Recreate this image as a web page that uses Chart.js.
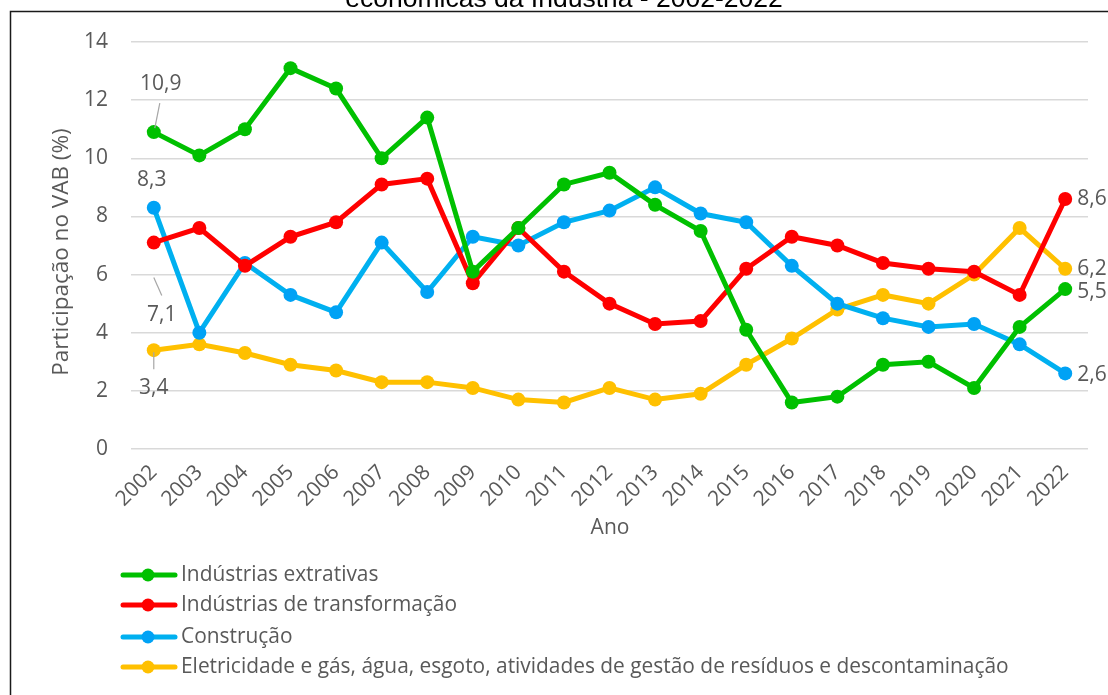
<!DOCTYPE html>
<html><head><meta charset="utf-8">
<script src="https://cdn.jsdelivr.net/npm/chart.js@4/dist/chart.umd.min.js"></script>
<style>html,body{margin:0;padding:0;background:#fff;overflow:hidden}#wrap{position:absolute;left:0;top:0;width:1108px;height:695px}</style>
</head><body><div id="wrap"><canvas id="c" width="1108" height="695"></canvas></div>
<script>
const years = ['2002','2003','2004','2005','2006','2007','2008','2009','2010','2011','2012','2013','2014','2015','2016','2017','2018','2019','2020','2021','2022'];
const extrativas     = [10.9,10.1,11.0,13.1,12.4,10.0,11.4,6.1,7.6,9.1,9.5,8.4,7.5,4.1,1.6,1.8,2.9,3.0,2.1,4.2,5.5];
const transformacao  = [7.1,7.6,6.3,7.3,7.8,9.1,9.3,5.7,7.6,6.1,5.0,4.3,4.4,6.2,7.3,7.0,6.4,6.2,6.1,5.3,8.6];
const construcao     = [8.3,4.0,6.4,5.3,4.7,7.1,5.4,7.3,7.0,7.8,8.2,9.0,8.1,7.8,6.3,5.0,4.5,4.2,4.3,3.6,2.6];
const eletricidade   = [3.4,3.6,3.3,2.9,2.7,2.3,2.3,2.1,1.7,1.6,2.1,1.7,1.9,2.9,3.8,4.8,5.3,5.0,6.0,7.6,6.2];
const seriesNames = ['Indústrias extrativas','Indústrias de transformação','Construção','Eletricidade e gás, água, esgoto, atividades de gestão de resíduos e descontaminação'];
const yTicks = [0,2,4,6,8,10,12,14];
const titleText = 'econômicas da Indústria - 2002-2022';
const yTitle = 'Participação no VAB (%)';
const xTitle = 'Ano';

const FONT = '"Open Sans"';
const TXT = '#595959';
const lineColors = ['#00C000','#FF0000','#00B0F0','#FFC000'];
const pointColors = ['#00C000','#FF0000','#00A2F5','#FFC000'];

function ds(label, data, i){
  return {label, data, borderColor: lineColors[i], backgroundColor: pointColors[i],
    pointBackgroundColor: pointColors[i], pointBorderColor: pointColors[i],
    borderWidth: 5, pointRadius: 7, pointHoverRadius: 7, pointBorderWidth: 0, tension: 0, clip: false};
}

// labels: [datasetIndex, pointIndex, dx, dy, align, leader [x1,y1,x2,y2] relative to point]
const dataLabels = [
  [0, 0, 7, -48, 'center', [1,-4, 6,-29]],
  [2, 0, -2, -28, 'center', null],
  [1, 0, 8, 72, 'center', [0, 35, 8, 53]],
  [3, 0, 0, 38, 'center', [0, 2, 0, 19]],
  [1, 20, 12, 0, 'left', null],
  [3, 20, 12, 0, 'left', null],
  [0, 20, 12, 3, 'left', null],
  [2, 20, 12, 2, 'left', null]
];

const deco = {
  id: 'deco',
  afterDraw(chart){
    const ctx = chart.ctx;
    ctx.save();
    // border
    ctx.strokeStyle = '#1a1a1a'; ctx.lineWidth = 1.5;
    ctx.beginPath(); ctx.moveTo(10.5, 700); ctx.lineTo(10.5, 11.5); ctx.lineTo(1120, 11.5); ctx.stroke();
    // title (cut off)
    ctx.fillStyle = '#000'; ctx.font = '26.5px "Liberation Sans", Arial, sans-serif';
    ctx.textAlign = 'center'; ctx.textBaseline = 'alphabetic';
    ctx.fillText(titleText, 564, 7);
    // axis titles
    ctx.fillStyle = TXT; ctx.font = '22.5px ' + FONT;
    ctx.textBaseline = 'middle';
    ctx.save(); ctx.translate(62, 252); ctx.rotate(-Math.PI/2); ctx.fillText(yTitle, 0, 0); ctx.restore();
    ctx.font = '21px ' + FONT;
    ctx.fillText(xTitle, 610, 528);
    // data labels
    ctx.font = '21px ' + FONT;
    for (const [d, i, dx, dy, al, lead] of dataLabels){
      const p = chart.getDatasetMeta(d).data[i];
      const v = chart.data.datasets[d].data[i];
      if (lead){
        ctx.strokeStyle = '#A6A6A6'; ctx.lineWidth = 1.2;
        ctx.beginPath(); ctx.moveTo(p.x+lead[0], p.y+lead[1]); ctx.lineTo(p.x+lead[2], p.y+lead[3]); ctx.stroke();
      }
      ctx.fillStyle = TXT; ctx.textAlign = al; ctx.textBaseline = 'middle';
      ctx.fillText(v.toFixed(1).replace('.', ','), p.x+dx, p.y+dy);
    }
    // legend
    const rows = [575, 605, 637, 667];
    ctx.font = '20.9px ' + FONT;
    chart.data.datasets.forEach((s, k) => {
      const y = rows[k];
      ctx.strokeStyle = lineColors[k]; ctx.lineWidth = 5; ctx.lineCap = 'round';
      ctx.beginPath(); ctx.moveTo(123, y); ctx.lineTo(175, y); ctx.stroke();
      ctx.fillStyle = pointColors[k];
      ctx.beginPath(); ctx.arc(148, y, 6.5, 0, Math.PI*2); ctx.fill();
      ctx.fillStyle = TXT; ctx.textAlign = 'left'; ctx.textBaseline = 'middle';
      ctx.fillText(seriesNames[k], 181, y);
    });
    ctx.restore();
  }
};

new Chart(document.getElementById('c'), {
  type: 'line',
  data: { labels: years, datasets: [
    ds(seriesNames[0], extrativas, 0),
    ds(seriesNames[1], transformacao, 1),
    ds(seriesNames[2], construcao, 2),
    ds(seriesNames[3], eletricidade, 3)
  ]},
  options: {
    responsive: false, animation: false, devicePixelRatio: 1,
    layout: { padding: { top: 42, right: 20, left: 0, bottom: 0 } },
    plugins: { legend: { display: false }, tooltip: { enabled: false }, title: { display: false } },
    scales: {
      x: {
        offset: true,
        grid: { display: false, drawTicks: false },
        border: { display: false },
        ticks: { color: TXT, font: { family: FONT, size: 21 }, minRotation: 45, maxRotation: 45, padding: 11, autoSkip: false },
        afterFit(s){ s.height = 246; }
      },
      y: {
        min: 0, max: 14,
        afterBuildTicks(s){ s.ticks = yTicks.map(v => ({value: v})); },
        grid: { color: '#D9D9D9', lineWidth: 1.5, drawTicks: false },
        border: { display: false },
        ticks: { color: TXT, font: { family: FONT, size: 21 }, padding: 23 },
        afterFit(s){ s.width = 131; }
      }
    }
  },
  plugins: [deco]
});
</script></body></html>
